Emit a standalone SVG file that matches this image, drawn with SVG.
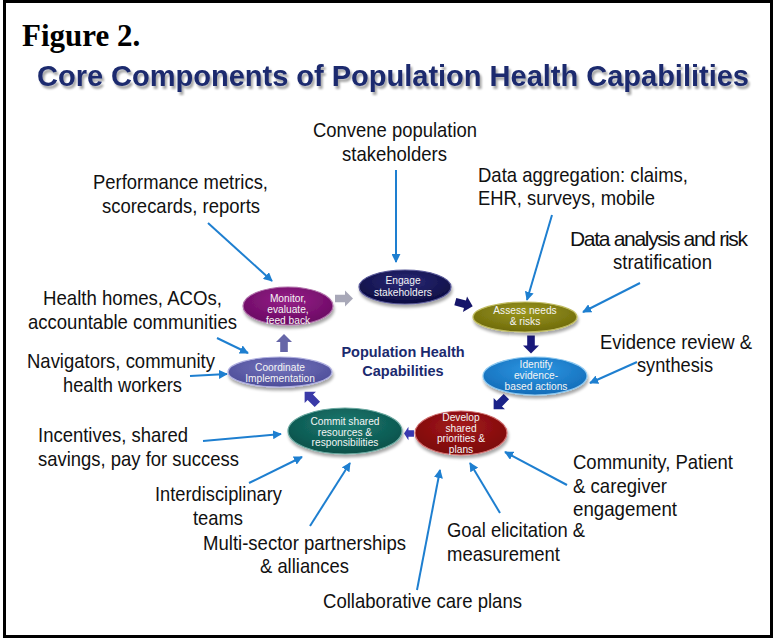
<svg xmlns="http://www.w3.org/2000/svg" width="773" height="639" viewBox="0 0 773 639">
<style>
.lbl{font-family:"Liberation Sans",Arial,sans-serif;font-size:21px;fill:#111;}
.in{font-family:"Liberation Sans",Arial,sans-serif;font-size:10.2px;fill:#f4f4f4;text-anchor:middle;}
.con{stroke:#1e7fd0;stroke-width:2;fill:none;marker-end:url(#ah);}
.ell{stroke-width:1.2;filter:url(#sh);}
</style>
<defs>
<marker id="ah" viewBox="0 0 10 10" refX="9" refY="5" markerWidth="4.5" markerHeight="4.5" orient="auto" markerUnits="strokeWidth">
<path d="M0,0 L10,5 L0,10 z" fill="#1e7fd0"/>
</marker>
<filter id="sh" x="-20%" y="-30%" width="140%" height="170%">
<feGaussianBlur in="SourceAlpha" stdDeviation="1.5"/>
<feOffset dx="1" dy="2.5" result="b"/>
<feComponentTransfer><feFuncA type="linear" slope="0.35"/></feComponentTransfer>
<feMerge><feMergeNode/><feMergeNode in="SourceGraphic"/></feMerge>
</filter>
<filter id="tsh" x="-5%" y="-20%" width="110%" height="160%">
<feGaussianBlur in="SourceAlpha" stdDeviation="1.2"/>
<feOffset dx="2" dy="2.5"/>
<feComponentTransfer><feFuncA type="linear" slope="0.35"/></feComponentTransfer>
<feMerge><feMergeNode/><feMergeNode in="SourceGraphic"/></feMerge>
</filter>
<radialGradient id="gNavy" cx="50%" cy="35%" r="65%"><stop offset="0" stop-color="#2a2a78"/><stop offset="1" stop-color="#0c0c40"/></radialGradient>
<radialGradient id="gOlive" cx="50%" cy="35%" r="65%"><stop offset="0" stop-color="#9a961c"/><stop offset="1" stop-color="#6e6a0c"/></radialGradient>
<radialGradient id="gBlue" cx="50%" cy="35%" r="65%"><stop offset="0" stop-color="#2e98e4"/><stop offset="1" stop-color="#136cb8"/></radialGradient>
<radialGradient id="gRed" cx="50%" cy="35%" r="65%"><stop offset="0" stop-color="#a41a1c"/><stop offset="1" stop-color="#7a0608"/></radialGradient>
<radialGradient id="gTeal" cx="50%" cy="35%" r="65%"><stop offset="0" stop-color="#1a7a70"/><stop offset="1" stop-color="#0a5049"/></radialGradient>
<radialGradient id="gSlate" cx="50%" cy="35%" r="65%"><stop offset="0" stop-color="#7474bc"/><stop offset="1" stop-color="#4c4c98"/></radialGradient>
<radialGradient id="gPurp" cx="50%" cy="35%" r="65%"><stop offset="0" stop-color="#962088"/><stop offset="1" stop-color="#690862"/></radialGradient>
<path id="blk" d="M-9,-3.8 L1,-3.8 L1,-8 L9,0 L1,8 L1,3.8 L-9,3.8 Z"/>
</defs>

<rect x="4.5" y="1.5" width="767" height="635" fill="#fff" stroke="#000" stroke-width="3"/>

<g id="heading">
<text x="22" y="46" font-family="'Liberation Serif','Times New Roman',serif" font-weight="bold" font-size="31" fill="#000">Figure 2.</text>
<text x="393" y="86" text-anchor="middle" font-family="'Liberation Sans',Arial,sans-serif" font-weight="bold" font-size="29" fill="#1b2a6e" filter="url(#tsh)" textLength="712" lengthAdjust="spacingAndGlyphs">Core Components of Population Health Capabilities</text>
</g>

<g id="block-arrows">
<use href="#blk" fill="#a8a8b8" transform="translate(344,298.5)"/>
<use href="#blk" fill="#16166a" transform="translate(464,304) rotate(15)"/>
<use href="#blk" fill="#18187a" transform="translate(531,344.5) rotate(90)"/>
<use href="#blk" fill="#1a2288" transform="translate(500,403) rotate(135)"/>
<use href="#blk" fill="#3838b0" transform="translate(409,433.5) rotate(180) scale(0.55,0.85)"/>
<use href="#blk" fill="#3a3aa8" transform="translate(311,398) rotate(-135)"/>
<use href="#blk" fill="#6666a8" transform="translate(284,343) rotate(-90)"/>
</g>

<g id="connectors">
<line class="con" x1="396" y1="170" x2="396" y2="262"/>
<line class="con" x1="208" y1="223" x2="272" y2="281"/>
<line class="con" x1="552" y1="215" x2="527" y2="300"/>
<line class="con" x1="640" y1="283" x2="583" y2="312"/>
<line class="con" x1="637" y1="362" x2="590" y2="383"/>
<line class="con" x1="217" y1="338" x2="248" y2="353"/>
<line class="con" x1="190" y1="376" x2="227" y2="374"/>
<line class="con" x1="203" y1="441" x2="281" y2="434"/>
<line class="con" x1="249" y1="483" x2="302" y2="457"/>
<line class="con" x1="310" y1="526" x2="350" y2="463"/>
<line class="con" x1="417" y1="590" x2="440" y2="470"/>
<line class="con" x1="500" y1="513" x2="470" y2="463"/>
<line class="con" x1="567" y1="485" x2="505" y2="452"/>
</g>

<g id="monitor">
<ellipse class="ell" cx="288" cy="306" rx="45" ry="19" fill="url(#gPurp)" stroke="#b070aa"/>
<text class="in" x="288" y="301.5">Monitor,</text>
<text class="in" x="288" y="312.5">evaluate,</text>
<text class="in" x="288" y="323.5">feed back</text>
</g>
<g id="engage">
<ellipse class="ell" cx="405" cy="287" rx="46" ry="17" fill="url(#gNavy)" stroke="#5a5a9a"/>
<text class="in" x="403" y="284">Engage</text>
<text class="in" x="403" y="296">stakeholders</text>
</g>
<g id="assess">
<ellipse class="ell" cx="525" cy="317" rx="52" ry="15" fill="url(#gOlive)" stroke="#c0bc60"/>
<text class="in" x="525" y="314">Assess needs</text>
<text class="in" x="525" y="325">&amp; risks</text>
</g>
<g id="identify">
<ellipse class="ell" cx="535" cy="376" rx="52" ry="19" fill="url(#gBlue)" stroke="#8cc8f0"/>
<text class="in" x="536" y="368">Identify</text>
<text class="in" x="536" y="379">evidence-</text>
<text class="in" x="536" y="390">based actions</text>
</g>
<g id="develop">
<ellipse class="ell" cx="461" cy="433" rx="46" ry="22" fill="url(#gRed)" stroke="#d07070"/>
<text class="in" x="461" y="421" font-size="9.8">Develop</text>
<text class="in" x="461" y="431.5" font-size="9.8">shared</text>
<text class="in" x="461" y="442" font-size="9.8">priorities &amp;</text>
<text class="in" x="461" y="452.5" font-size="9.8">plans</text>
</g>
<g id="commit">
<ellipse class="ell" cx="345" cy="431" rx="57" ry="23" fill="url(#gTeal)" stroke="#6aa8a0"/>
<text class="in" x="345" y="425" font-size="10.8">Commit shared</text>
<text class="in" x="345" y="435.5" font-size="10.8">resources &amp;</text>
<text class="in" x="345" y="446" font-size="10.8">responsibilities</text>
</g>
<g id="coordinate">
<ellipse class="ell" cx="280" cy="372" rx="52" ry="15" fill="url(#gSlate)" stroke="#b0b0e0"/>
<text class="in" x="280" y="371">Coordinate</text>
<text class="in" x="280" y="382">Implementation</text>
</g>

<g id="center-label" font-family="'Liberation Sans',Arial,sans-serif" font-weight="bold" font-size="14.5" fill="#1b2a6e" text-anchor="middle">
<text x="403" y="357">Population Health</text>
<text x="403" y="376">Capabilities</text>
</g>

<g id="labels" class="lbl">
<text class="lbl" x="313" y="137" textLength="164" lengthAdjust="spacingAndGlyphs">Convene population</text>
<text class="lbl" x="342" y="161" textLength="105" lengthAdjust="spacingAndGlyphs">stakeholders</text>
<text class="lbl" x="93" y="189" textLength="175" lengthAdjust="spacingAndGlyphs">Performance metrics,</text>
<text class="lbl" x="102" y="213" textLength="158" lengthAdjust="spacingAndGlyphs">scorecards, reports</text>
<text class="lbl" x="478" y="182" textLength="210" lengthAdjust="spacingAndGlyphs">Data aggregation: claims,</text>
<text class="lbl" x="478" y="205" textLength="177" lengthAdjust="spacingAndGlyphs">EHR, surveys, mobile</text>
<text class="lbl" x="570" y="246" font-size="18.5" textLength="178">Data analysis and risk</text>
<text class="lbl" x="613" y="269" textLength="99" lengthAdjust="spacingAndGlyphs">stratification</text>
<text class="lbl" x="600" y="349" textLength="152" lengthAdjust="spacingAndGlyphs">Evidence review &amp;</text>
<text class="lbl" x="637" y="372" textLength="76" lengthAdjust="spacingAndGlyphs">synthesis</text>
<text class="lbl" x="43" y="305" textLength="179" lengthAdjust="spacingAndGlyphs">Health homes, ACOs,</text>
<text class="lbl" x="28" y="329" textLength="209" lengthAdjust="spacingAndGlyphs">accountable communities</text>
<text class="lbl" x="27" y="368" textLength="188" lengthAdjust="spacingAndGlyphs">Navigators, community</text>
<text class="lbl" x="63" y="392" textLength="119" lengthAdjust="spacingAndGlyphs">health workers</text>
<text class="lbl" x="38" y="442" textLength="150" lengthAdjust="spacingAndGlyphs">Incentives, shared</text>
<text class="lbl" x="38" y="466" textLength="201" lengthAdjust="spacingAndGlyphs">savings, pay for success</text>
<text class="lbl" x="155" y="501" textLength="127" lengthAdjust="spacingAndGlyphs">Interdisciplinary</text>
<text class="lbl" x="193" y="525" textLength="50" lengthAdjust="spacingAndGlyphs">teams</text>
<text class="lbl" x="203" y="550" textLength="203" lengthAdjust="spacingAndGlyphs">Multi-sector partnerships</text>
<text class="lbl" x="260" y="573" textLength="89" lengthAdjust="spacingAndGlyphs">&amp; alliances</text>
<text class="lbl" x="323" y="608" textLength="199" lengthAdjust="spacingAndGlyphs">Collaborative care plans</text>
<text class="lbl" x="447" y="537" textLength="138" lengthAdjust="spacingAndGlyphs">Goal elicitation &amp;</text>
<text class="lbl" x="447" y="561" textLength="113" lengthAdjust="spacingAndGlyphs">measurement</text>
<text class="lbl" x="573" y="469" textLength="160" lengthAdjust="spacingAndGlyphs">Community, Patient</text>
<text class="lbl" x="573" y="493" textLength="94" lengthAdjust="spacingAndGlyphs">&amp; caregiver</text>
<text class="lbl" x="573" y="516" textLength="104" lengthAdjust="spacingAndGlyphs">engagement</text>
</g>
</svg>
